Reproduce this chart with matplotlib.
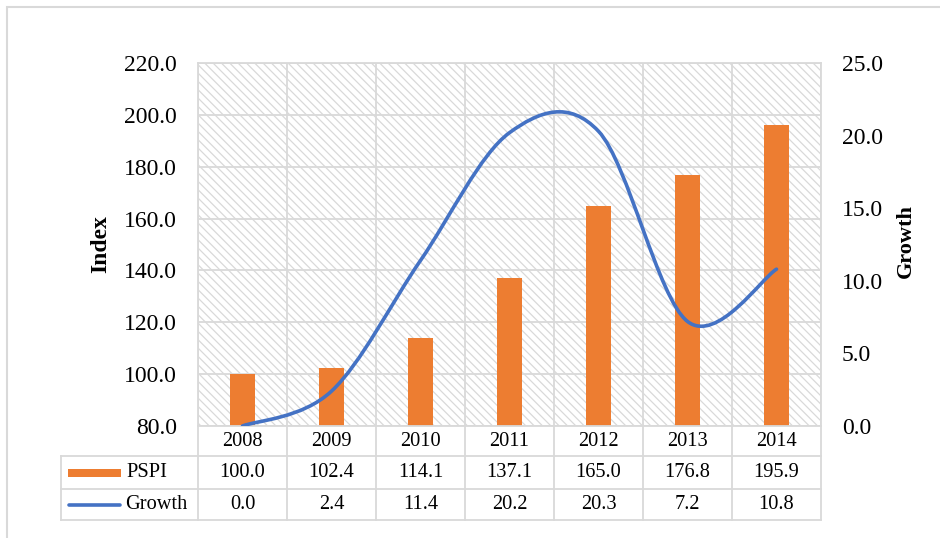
import numpy as np
import matplotlib
matplotlib.use("Agg")
import matplotlib.pyplot as plt
from matplotlib.patches import Rectangle, PathPatch
from matplotlib.path import Path
from matplotlib.lines import Line2D
from matplotlib.transforms import blended_transform_factory

years = ["2008", "2009", "2010", "2011", "2012", "2013", "2014"]
pspi = [100.0, 102.4, 114.1, 137.1, 165.0, 176.8, 195.9]
growth = [0.0, 2.4, 11.4, 20.2, 20.3, 7.2, 10.8]
index_ticks = np.arange(80, 221, 20)
growth_ticks = np.arange(0, 26, 5)

plt.rcParams["font.family"] = ["Liberation Serif", "DejaVu Serif"]
plt.rcParams["hatch.linewidth"] = 0.9

GRID = "#d9d9d9"
ORANGE = "#ED7D31"
BLUE = "#4472C4"

W, H = 940, 538


def fx(px):
    return px / W


def fy(py):
    return 1 - py / H


fig = plt.figure(figsize=(9.4, 5.38), dpi=100)

# outer chart frame (cut off at right/bottom like the reference)
fig.add_artist(Rectangle((fx(7), -0.2), 1.3, fy(7) + 0.2, transform=fig.transFigure,
                         fill=False, edgecolor=GRID, linewidth=1.5))

ax = fig.add_axes([fx(198), fy(426), fx(821) - fx(198), fy(63) - fy(426)])
x = np.arange(len(years))

# hatched plot area
ax.add_patch(Rectangle((0, 0), 1, 1, transform=ax.transAxes, facecolor="white",
                       edgecolor=GRID, linewidth=0, hatch="\\\\\\\\", zorder=0))

ax.bar(x, pspi, width=0.29, color=ORANGE, zorder=2)
ax.set_xlim(-0.5, len(years) - 0.5)
ax.set_ylim(80, 220)
ax.set_yticks(index_ticks)
ax.set_yticklabels([f"{v:.1f}" for v in index_ticks], fontsize=17)
ax.set_xticks(x)
ax.set_xticks(np.arange(-0.5, len(years)), minor=True)
ax.grid(True, which="major", axis="y", color=GRID, lw=1.3)
ax.grid(True, which="minor", axis="x", color=GRID, lw=1.3)
ax.tick_params(which="both", length=0)
ax.tick_params(axis="x", labelbottom=False)
ax.tick_params(axis="y", pad=15)
for s in ax.spines.values():
    s.set_color(GRID)
    s.set_linewidth(1.3)
ax.set_axisbelow(True)

ax2 = ax.twinx()
ax2.set_ylim(0, 25)
ax2.set_yticks(growth_ticks)
ax2.set_yticklabels([f"{v:.1f}" for v in growth_ticks], fontsize=17)
ax2.tick_params(length=0, pad=15)
for s in ax2.spines.values():
    s.set_visible(False)

# smoothed line (catmull-rom style bezier, like excel's smoothing)
pts = np.column_stack([x, growth]).astype(float)
ext = np.vstack([pts[0], pts, pts[-1]])
verts = [pts[0]]
codes = [Path.MOVETO]
for i in range(len(pts) - 1):
    p0, p1, p2, p3 = ext[i], ext[i + 1], ext[i + 2], ext[i + 3]
    verts += [p1 + (p2 - p0) / 6, p2 - (p3 - p1) / 6, p2]
    codes += [Path.CURVE4] * 3
ax2.add_patch(PathPatch(Path(verts, codes), fill=False, edgecolor=BLUE, lw=2.6,
                        capstyle="round", zorder=3))

# data table below the plot
tr = blended_transform_factory(ax.transData, fig.transFigure)
for yy in [456, 489, 520]:
    fig.add_artist(Line2D([fx(61), fx(821)], [fy(yy)] * 2, transform=fig.transFigure,
                          color=GRID, lw=1.3))
for xb in np.arange(-0.5, len(years)):
    fig.add_artist(Line2D([xb, xb], [fy(426), fy(520)], transform=tr, color=GRID, lw=1.3))
fig.add_artist(Line2D([fx(61), fx(61)], [fy(456), fy(520)], transform=fig.transFigure,
                      color=GRID, lw=1.3))

for i in range(len(years)):
    fig.text(x[i], fy(441), years[i], transform=tr, ha="center", va="center", fontsize=14.7)
    fig.text(x[i], fy(472.5), f"{pspi[i]:.1f}", transform=tr, ha="center", va="center", fontsize=14.7)
    fig.text(x[i], fy(504.5), f"{growth[i]:.1f}", transform=tr, ha="center", va="center", fontsize=14.7)

# legend keys inside the table
fig.add_artist(Rectangle((fx(68), fy(476.5)), fx(121) - fx(68), fy(468.5) - fy(476.5),
                         transform=fig.transFigure, facecolor=ORANGE, edgecolor="none"))
fig.add_artist(Line2D([fx(69), fx(120)], [fy(504.5)] * 2, transform=fig.transFigure,
                      color=BLUE, lw=2.6, solid_capstyle="round"))
fig.text(fx(126), fy(472.5), "PSPI", ha="left", va="center", fontsize=14.7)
fig.text(fx(125), fy(504.5), "Growth", ha="left", va="center", fontsize=14.7)

fig.text(fx(101), fy(244), "Index", rotation=90, ha="center", va="center",
         fontsize=17, fontweight="bold")
fig.text(fx(906), fy(241), "Growth", rotation=90, ha="center", va="center",
         fontsize=16, fontweight="bold")

fig.savefig("out.png", dpi=100)
